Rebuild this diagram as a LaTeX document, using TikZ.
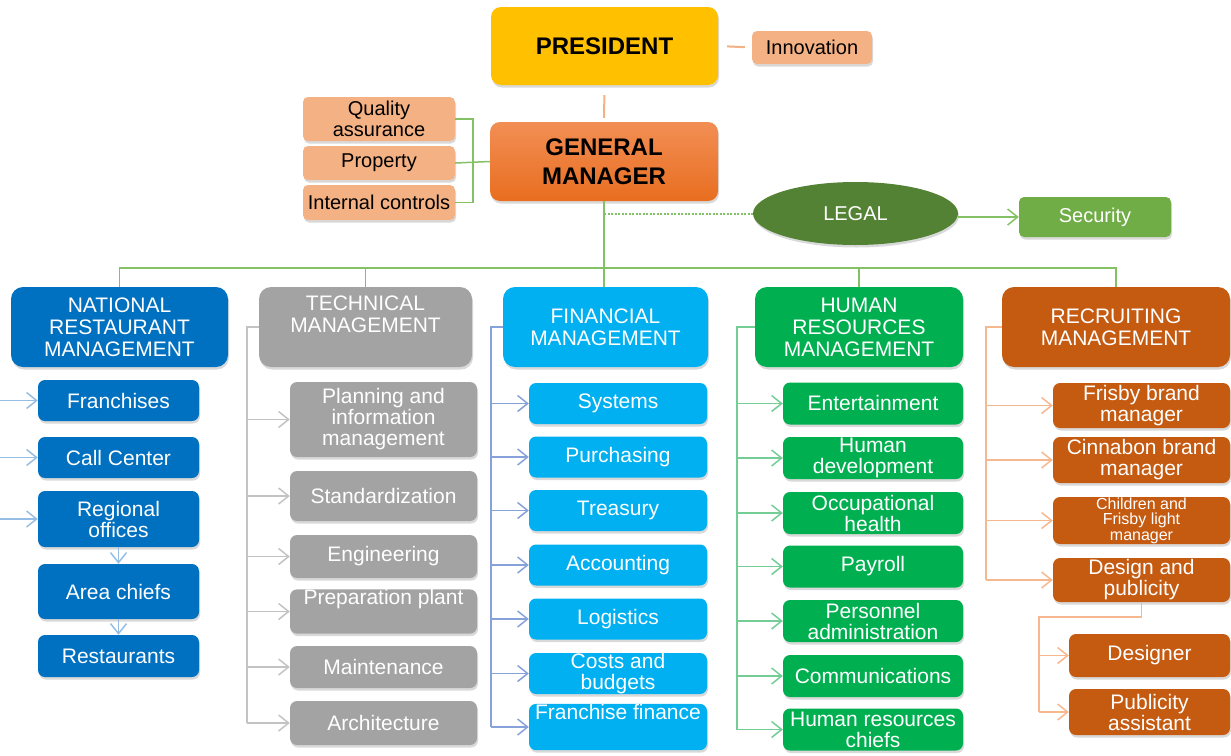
\documentclass[tikz,border=0pt]{standalone}
\usepackage{fontspec}
\setmainfont{Liberation Sans}
\usetikzlibrary{arrows.meta,shapes.geometric,shadows}

\definecolor{natblue}{RGB}{0,112,192}
\definecolor{techgray}{RGB}{163,163,163}
\definecolor{fincyan}{RGB}{0,176,240}
\definecolor{hrgreen}{RGB}{0,176,80}
\definecolor{recrust}{RGB}{197,90,17}
\definecolor{peach}{RGB}{244,177,131}
\definecolor{presgold}{RGB}{255,192,0}
\definecolor{gmtop}{RGB}{242,142,84}
\definecolor{gmbot}{RGB}{232,110,32}
\definecolor{legalgreen}{RGB}{84,130,53}
\definecolor{secgreen}{RGB}{112,173,71}
\definecolor{busgreen}{RGB}{132,192,100}
\definecolor{natln}{RGB}{150,190,228}
\definecolor{techln}{RGB}{195,195,195}
\definecolor{finln}{RGB}{135,162,218}
\definecolor{hrln}{RGB}{115,205,148}
\definecolor{recln}{RGB}{246,184,142}

\tikzset{
  box/.style={rectangle, rounded corners=7pt, inner sep=0pt, align=center,
    text=white, font=\fontsize{21}{21}\selectfont,
    drop shadow={shadow xshift=1pt, shadow yshift=-2.5pt, opacity=0.3}},
  headbox/.style={box, rounded corners=12pt, minimum height=80pt,
    font=\fontsize{21}{22}\selectfont},
  topbox/.style={box, rounded corners=10pt, text=black,
    font=\bfseries\fontsize{24}{29}\selectfont},
  peachbox/.style={box, rounded corners=5pt, fill=peach, text=black,
    minimum width=152pt, font=\fontsize{20}{21}\selectfont},
  natbox/.style={box, fill=natblue, minimum width=161pt},
  techbox/.style={box, fill=techgray, minimum width=187pt},
  finbox/.style={box, fill=fincyan, minimum width=178pt, minimum height=41pt},
  hrbox/.style={box, fill=hrgreen, minimum width=180pt, minimum height=42pt},
  recbox/.style={box, fill=recrust, minimum width=177pt},
  arrowed/.style={-{Straight Barb[length=10pt,width=16pt,line width=1.5pt]}},
  mainline/.style={draw=busgreen, line width=1.8pt},
  natline/.style={draw=natln, line width=1.5pt},
  techline/.style={draw=techln, line width=1.5pt},
  finline/.style={draw=finln, line width=1.5pt},
  hrline/.style={draw=hrln, line width=1.5pt},
  recline/.style={draw=recln, line width=1.5pt},
  peachline/.style={draw=peach, line width=2pt}
}

\begin{document}
\begin{tikzpicture}[x=1pt, y=-1pt]
\useasboundingbox (0,0) rectangle (1231,755);

\node[topbox, fill=presgold, minimum width=227pt, minimum height=78pt] (pres) at (604.5,46) {PRESIDENT};
\node[peachbox, minimum width=120pt, minimum height=33pt] (innov) at (812,47.5) {Innovation};
\node[topbox, top color=gmtop, bottom color=gmbot, minimum width=228pt, minimum height=79pt] (gm) at (604,161.5) {GENERAL\\MANAGER};
\node[peachbox, minimum height=44pt] (qual) at (379,119) {Quality\\assurance};
\node[peachbox, minimum height=34pt] (prop) at (379,163) {Property};
\node[peachbox, minimum height=35pt] (intc) at (379,202.5) {Internal controls};
\node[ellipse, fill=legalgreen, text=white, minimum width=205pt, minimum height=63pt, inner sep=0pt,
  font=\fontsize{20}{21}\selectfont, drop shadow={shadow xshift=1pt, shadow yshift=-2.5pt, opacity=0.3}] (legal) at (855.5,213.5) {LEGAL\\[12pt]};
\node[box, fill=secgreen, rounded corners=5pt, minimum width=152pt, minimum height=40pt,
  font=\fontsize{20}{21}\selectfont] (sec) at (1095,217) {Security};

\draw[peachline, shorten <=9pt, shorten >=7pt] (pres.east) -- (innov.west);
\draw[peachline, shorten <=10pt, shorten >=4pt] (pres.south) -- (gm.north);
\coordinate (qbus) at (473,163);
\draw[mainline, line width=1.5pt] (qual.east) -- (qual.east -| qbus) -- (intc.east -| qbus) -- (intc.east);
\draw[mainline, line width=1.5pt] (prop.east) -- (gm.west);

\node[headbox, fill=natblue, minimum width=217pt] (nat) at (119.5,327) {NATIONAL\\RESTAURANT\\MANAGEMENT};
\node[headbox, fill=techgray, minimum width=213pt] (tech) at (365.5,327) {TECHNICAL\\MANAGEMENT\\[4pt]};
\node[headbox, fill=fincyan, minimum width=205pt] (fin) at (605.5,327) {FINANCIAL\\MANAGEMENT};
\node[headbox, fill=hrgreen, minimum width=208pt] (hr) at (859,327) {HUMAN\\RESOURCES\\MANAGEMENT};
\node[headbox, fill=recrust, minimum width=228pt] (rec) at (1116,327) {RECRUITING\\MANAGEMENT};

\coordinate (bus) at (604,268);
\draw[mainline] (gm.south) -- (bus) -- (bus |- fin.north);
\draw[mainline] (nat.north) -- (nat.north |- bus) -- (rec.north |- bus) -- (rec.north);
\draw[mainline] (tech.north |- bus) -- (tech.north);
\draw[mainline] (hr.north |- bus) -- (hr.north);
\draw[mainline, line width=2pt, dash pattern=on 2pt off 1.5pt] (gm.south |- legal.west) -- (legal.west);
\draw[mainline, line width=1.6pt, arrowed] (legal.east |- sec.west) -- (sec.west);

\node[natbox, minimum height=41pt] (franch) at (118.5,400.5) {Franchises};
\node[natbox, minimum height=41pt] (callc) at (118.5,457.5) {Call Center};
\node[natbox, minimum height=56pt] (regoff) at (118.5,519) {Regional\\offices};
\node[natbox, minimum height=55pt] (areach) at (118.5,591.5) {Area chiefs};
\node[natbox, minimum height=42pt] (rest) at (118.5,656) {Restaurants};

\coordinate (nbus) at (0,327);
\draw[natline, arrowed] (nbus |- franch.west) -- (franch.west);
\draw[natline, arrowed] (nbus |- callc.west) -- (callc.west);
\draw[natline, arrowed] (nbus |- regoff.west) -- (regoff.west);
\draw[natline, arrowed] (regoff.south) -- (areach.north);
\draw[natline, arrowed] (areach.south) -- (rest.north);

\node[techbox, minimum height=75pt] (plan) at (383.5,419.5) {Planning and\\information\\management};
\node[techbox, minimum height=50pt] (stand) at (383.5,496) {Standardization};
\node[techbox, minimum height=43pt] (eng) at (383.5,556.5) {Engineering};
\node[techbox, minimum height=41pt] (prep) at (383.5,611.5) {Preparation plant\\[8pt]};
\node[techbox, minimum height=42pt] (maint) at (383.5,667) {Maintenance};
\node[techbox, minimum height=44pt] (arch) at (383.5,723) {Architecture};

\coordinate (tbus) at (247,327);
\draw[techline] (tech.west) -- (tbus) -- (tbus |- arch.west);
\draw[techline, arrowed] (tbus |- plan.west) -- (plan.west);
\draw[techline, arrowed] (tbus |- stand.west) -- (stand.west);
\draw[techline, arrowed] (tbus |- eng.west) -- (eng.west);
\draw[techline, arrowed] (tbus |- prep.west) -- (prep.west);
\draw[techline, arrowed] (tbus |- maint.west) -- (maint.west);
\draw[techline, arrowed] (tbus |- arch.west) -- (arch.west);

\node[finbox] (syst) at (618,403.5) {Systems};
\node[finbox] (purch) at (618,457) {Purchasing};
\node[finbox] (treas) at (618,510.5) {Treasury};
\node[finbox] (acct) at (618,565) {Accounting};
\node[finbox] (logi) at (618,619) {Logistics};
\node[finbox] (costs) at (618,673.5) {Costs and\\budgets};
\node[finbox] (ffin) at (618,727) {Franchise finance\\[10pt]};

\coordinate (fbus) at (491,327);
\draw[finline] (fin.west) -- (fbus) -- (fbus |- ffin.west);
\draw[finline, arrowed] (fbus |- syst.west) -- (syst.west);
\draw[finline, arrowed] (fbus |- purch.west) -- (purch.west);
\draw[finline, arrowed] (fbus |- treas.west) -- (treas.west);
\draw[finline, arrowed] (fbus |- acct.west) -- (acct.west);
\draw[finline, arrowed] (fbus |- logi.west) -- (logi.west);
\draw[finline, arrowed] (fbus |- costs.west) -- (costs.west);
\draw[finline, arrowed] (fbus |- ffin.west) -- (ffin.west);

\node[hrbox] (enter) at (873,403.5) {\\[-6pt]Entertainment};
\node[hrbox] (hdev) at (873,458) {Human\\development};
\node[hrbox] (occup) at (873,513) {Occupational\\health};
\node[hrbox] (payr) at (873,566.5) {\\[-6pt]Payroll};
\node[hrbox] (pers) at (873,621) {Personnel\\administration};
\node[hrbox] (comm) at (873,676) {Communications};
\node[hrbox] (hrch) at (873,729.5) {Human resources\\chiefs};

\coordinate (hbus) at (737,327);
\draw[hrline] (hr.west) -- (hbus) -- (hbus |- hrch.west);
\draw[hrline, arrowed] (hbus |- enter.west) -- (enter.west);
\draw[hrline, arrowed] (hbus |- hdev.west) -- (hdev.west);
\draw[hrline, arrowed] (hbus |- occup.west) -- (occup.west);
\draw[hrline, arrowed] (hbus |- payr.west) -- (payr.west);
\draw[hrline, arrowed] (hbus |- pers.west) -- (pers.west);
\draw[hrline, arrowed] (hbus |- comm.west) -- (comm.west);
\draw[hrline, arrowed] (hbus |- hrch.west) -- (hrch.west);

\node[recbox, minimum height=45pt] (frisby) at (1141.5,405.5) {Frisby brand\\manager};
\node[recbox, minimum height=46pt] (cinna) at (1141.5,460) {Cinnabon brand\\manager};
\node[recbox, minimum height=47pt, font=\fontsize{16}{15.5}\selectfont] (child) at (1141.5,520.5) {Children and\\Frisby light\\manager};
\node[recbox, minimum height=44pt] (design) at (1141.5,580) {Design and\\publicity};
\node[recbox, minimum width=161pt, minimum height=43pt] (designer) at (1149.5,655.5) {Designer};
\node[recbox, minimum width=161pt, minimum height=46pt] (pubas) at (1149.5,712) {Publicity\\assistant};

\coordinate (rbus) at (986,327);
\draw[recline] (rec.west) -- (rbus) -- (rbus |- design.west);
\draw[recline, arrowed] (rbus |- frisby.west) -- (frisby.west);
\draw[recline, arrowed] (rbus |- cinna.west) -- (cinna.west);
\draw[recline, arrowed] (rbus |- child.west) -- (child.west);
\draw[recline, arrowed] (rbus |- design.west) -- (design.west);
\coordinate (dbus) at (1039,617);
\draw[recline] (design.south) |- (dbus) -- (dbus |- pubas.west);
\draw[recline, arrowed] (dbus |- designer.west) -- (designer.west);
\draw[recline, arrowed] (dbus |- pubas.west) -- (pubas.west);

\end{tikzpicture}
\end{document}
